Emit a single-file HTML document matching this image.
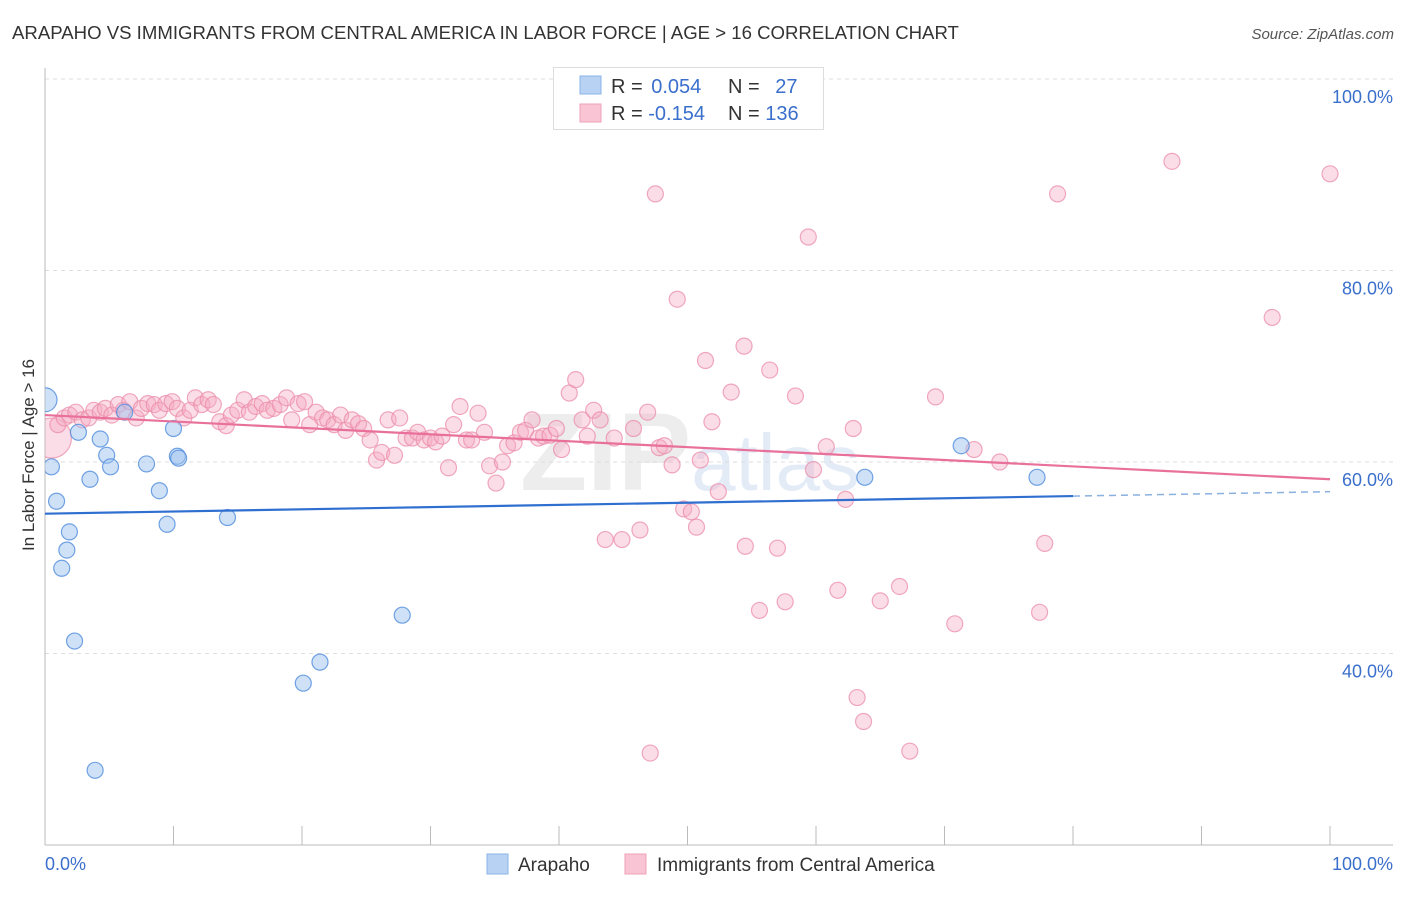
<!DOCTYPE html>
<html><head><meta charset="utf-8"><style>
body{margin:0;background:#fff;font-family:"Liberation Sans",sans-serif}
</style></head><body>
<svg width="1406" height="892" xmlns="http://www.w3.org/2000/svg">
<text x="12" y="39" font-size="18.6" fill="#333">ARAPAHO VS IMMIGRANTS FROM CENTRAL AMERICA IN LABOR FORCE | AGE &gt; 16 CORRELATION CHART</text>
<text x="1394" y="39" font-size="15" fill="#555" font-style="italic" text-anchor="end">Source: ZipAtlas.com</text>
<text x="690" y="490" font-size="110" fill="#ddd" font-weight="bold" text-anchor="middle" opacity="0.5">ZIP<tspan fill="#c8d8f0" font-weight="normal" font-size="80">atlas</tspan></text>
<g id="grid"></g>
<g id="axes"></g>
<defs><clipPath id="pc"><rect x="45" y="60" width="1360" height="785"/></clipPath></defs>
<g id="pts" clip-path="url(#pc)"></g>
<g id="trend"></g>
<text transform="translate(34,455) rotate(-90)" font-size="17" fill="#333" text-anchor="middle">In Labor Force | Age &gt; 16</text>
<g>
<rect x="553.5" y="67.5" width="270" height="62" fill="#fff" stroke="#ddd"/>
<rect x="580" y="76" width="21" height="18" fill="#b8d2f4" stroke="#8ab4e8"/>
<rect x="580" y="104" width="21" height="18" fill="#f9c4d4" stroke="#f0a0b8"/>
<text x="611" y="93" font-size="20" fill="#333">R = <tspan fill="#3a6fcc" dx="3">0.054</tspan></text>
<text x="728" y="93" font-size="20" fill="#333">N = <tspan fill="#3a6fcc" dx="10">27</tspan></text>
<text x="611" y="120" font-size="20" fill="#333">R = <tspan fill="#3a6fcc">-0.154</tspan></text>
<text x="728" y="120" font-size="20" fill="#333">N = <tspan fill="#3a6fcc">136</tspan></text>
</g>
<g>
<rect x="487" y="854" width="21" height="20" fill="#b8d2f4" stroke="#8ab4e8"/>
<text x="518" y="871" font-size="19" fill="#333">Arapaho</text>
<rect x="625" y="854" width="21" height="20" fill="#f9c4d4" stroke="#f0a0b8"/>
<text x="657" y="871" font-size="19" fill="#333">Immigrants from Central America</text>
</g>
</svg>
<script>
const blueX=[0,0.5,0.9,1.3,1.7,1.9,2.3,2.6,3.5,3.9,4.3,4.8,5.1,6.2,7.9,8.9,9.5,10.0,10.3,10.4,14.2,20.1,21.4,27.8,63.8,71.3,77.2];
const blueY=[66.5,59.5,55.9,48.9,50.8,52.7,41.3,63.1,58.2,27.8,62.4,60.7,59.5,65.2,59.8,57.0,53.5,63.5,60.6,60.4,54.2,36.9,39.1,44.0,58.4,61.7,58.4];
const pinkX=[0.5,1.0,1.5,1.9,2.4,2.9,3.4,3.8,4.3,4.7,5.2,5.7,6.1,6.6,7.1,7.5,8.0,8.5,8.9,9.4,9.9,10.3,10.8,11.3,11.7,12.2,12.7,13.1,13.6,14.1,14.5,15.0,15.5,15.9,16.4,16.9,17.3,17.8,18.3,18.8,19.2,19.7,20.2,20.6,21.1,21.6,22.0,22.5,23.0,23.4,23.9,24.4,24.8,25.3,25.8,26.2,26.7,27.2,27.6,28.1,28.6,29.0,29.5,30.0,30.4,30.9,31.4,31.8,32.3,32.8,33.2,33.7,34.2,34.6,35.1,35.6,36.0,36.5,37.0,37.4,37.9,38.4,38.8,39.3,39.8,40.2,40.8,41.3,41.8,42.2,42.7,43.2,43.6,44.3,44.9,45.8,46.3,46.9,47.5,47.8,48.2,48.8,49.2,49.7,50.3,50.7,51.0,51.4,51.9,52.4,53.4,54.4,54.5,55.6,56.4,57.0,57.6,58.4,59.4,59.8,60.8,61.7,62.3,62.9,63.2,63.7,65.0,66.5,67.3,69.3,70.8,72.3,74.3,77.4,77.8,78.8,87.7,95.5,100,47.1];
const pinkY=[62.5,63.9,64.6,64.9,65.2,64.4,64.6,65.4,65.2,65.6,64.9,66.0,65.4,66.3,64.6,65.6,66.1,66.0,65.4,66.1,66.3,65.6,64.6,65.4,66.7,66.0,66.5,66.0,64.2,63.8,64.9,65.4,66.5,65.2,65.8,66.1,65.4,65.6,66.0,66.7,64.4,66.1,66.3,63.9,65.2,64.6,64.4,63.9,64.9,63.3,64.4,64.0,63.5,62.3,60.2,61.0,64.4,60.7,64.6,62.5,62.5,63.1,62.3,62.5,62.1,62.7,59.4,63.9,65.8,62.3,62.3,65.1,63.1,59.6,57.8,60.0,61.7,62.0,63.1,63.3,64.4,62.5,62.7,62.8,63.5,61.3,67.2,68.6,64.4,62.7,65.4,64.4,51.9,62.5,51.9,63.5,52.9,65.2,88.0,61.5,61.7,59.7,77.0,55.1,54.8,53.2,60.2,70.6,64.2,56.9,67.3,72.1,51.2,44.5,69.6,51.0,45.4,66.9,83.5,59.2,61.6,46.6,56.1,63.5,35.4,32.9,45.5,47.0,29.8,66.8,43.1,61.3,60.0,44.3,51.5,88.0,91.4,75.1,90.1,29.6];
const blueTrend=[54.6,56.9];
const pinkTrend=[64.9,58.2];
const xTickLabels=["0.0%","100.0%"];
const yTicks=[100,80,60,40];
const yTickLabels=["100.0%","80.0%","60.0%","40.0%"];
const NS="http://www.w3.org/2000/svg";
const sx=v=>45+v*12.85;
const sy=v=>79+(100-v)*9.575;
function mk(t,a,p){const e=document.createElementNS(NS,t);for(const k in a)e.setAttribute(k,a[k]);p.appendChild(e);return e;}
const grid=document.getElementById('grid'),axes=document.getElementById('axes'),pts=document.getElementById('pts'),trend=document.getElementById('trend');
yTicks.forEach((t,i)=>{
 const l=mk('line',{x1:45,x2:1393,y1:sy(t),y2:sy(t),stroke:'#ddd','stroke-dasharray':'4,4'},grid);
 
 
 const tx=mk('text',{x:1393,y:sy(t)+24,'font-size':18,fill:'#3a6fcc','text-anchor':'end'},axes);
 tx.textContent=yTickLabels[i];
 
 
});
mk('line',{x1:45,x2:45,y1:68,y2:845,stroke:'#bbb'},axes);
mk('line',{x1:45,x2:1393,y1:845,y2:845,stroke:'#bbb'},axes);
for(let i=0;i<=10;i++){const t=mk('line',{x1:sx(i*10),x2:sx(i*10),y1:826,y2:845,stroke:'#bbb'},axes);
 
 }
const x0=mk('text',{x:45,y:870,'font-size':18,fill:'#3a6fcc'},axes);x0.textContent=xTickLabels[0];


const x1=mk('text',{x:1393,y:870,'font-size':18,fill:'#3a6fcc','text-anchor':'end'},axes);x1.textContent=xTickLabels[1];


pinkX.forEach((x,i)=>{const r=i===0?20:8;
 const c=mk('circle',{cx:sx(x),cy:sy(pinkY[i]),r:r,fill:'rgba(245,170,195,0.4)',stroke:'rgba(235,140,170,0.75)','stroke-width':1.2},pts);
 
 });
blueX.forEach((x,i)=>{const r=i===0?12:8;
 const c=mk('circle',{cx:sx(x),cy:sy(blueY[i]),r:r,fill:'rgba(160,195,240,0.5)',stroke:'rgba(80,140,220,0.8)','stroke-width':1.2},pts);
 
 });
const bAt=v=>blueTrend[0]+(blueTrend[1]-blueTrend[0])*v/100;
const b1=mk('line',{x1:sx(0),y1:sy(bAt(0)),x2:sx(80),y2:sy(bAt(80)),stroke:'#2f6fd0','stroke-width':2.2},trend);


const b2=mk('line',{x1:sx(80),y1:sy(bAt(80)),x2:sx(100),y2:sy(bAt(100)),stroke:'#8ab0e0','stroke-width':1.5,'stroke-dasharray':'7,5'},trend);


const p1=mk('line',{x1:sx(0),y1:sy(pinkTrend[0]),x2:sx(100),y2:sy(pinkTrend[1]),stroke:'#e8709a','stroke-width':2.2},trend);


</script>
</body></html>
